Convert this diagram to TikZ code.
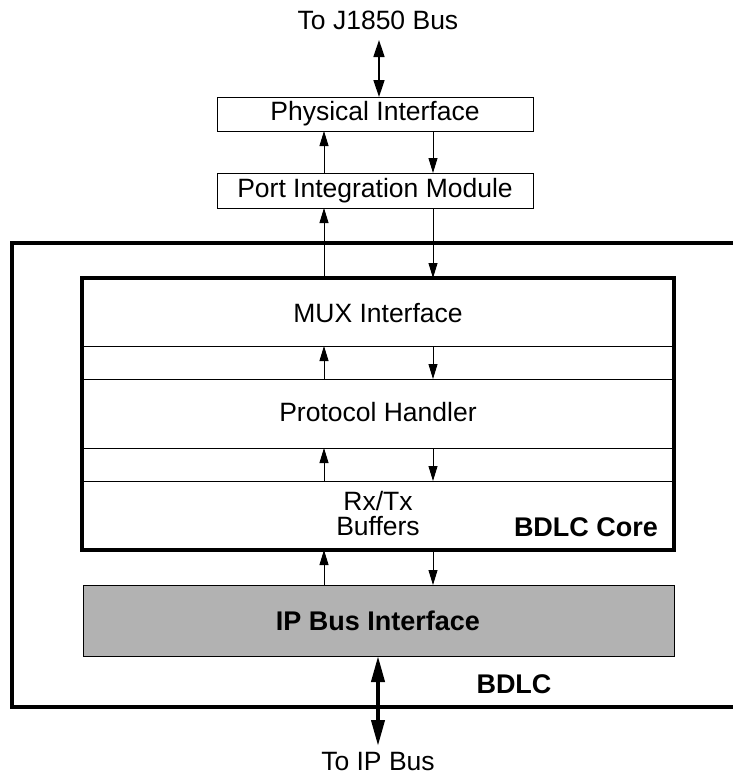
\documentclass[tikz,border=0pt]{standalone}
\usepackage{fontspec}
\setmainfont{Liberation Sans}
\usetikzlibrary{arrows.meta,calc}
\begin{document}
\begin{tikzpicture}[x=1pt,y=-1pt,
  every node/.style={font=\fontsize{26.5}{29}\selectfont, inner sep=0pt, outer sep=0pt},
  box/.style={draw, line width=1pt, rectangle, anchor=north west},
  sig/.style={line width=0.9pt, -{Triangle[length=15pt,width=9pt]}},
  bus/.style={line width=1.5pt, {Triangle[length=17pt,width=11pt]}-{Triangle[length=17pt,width=11pt]}},
  thickbus/.style={line width=4pt, {Triangle[length=26pt,width=13pt]}-{Triangle[length=26pt,width=13pt]}},
  heavy/.style={line width=4pt},
  lbl/.style={font=\fontsize{27}{29}\selectfont\bfseries}]
\useasboundingbox (0,0) rectangle (733,777);
\begin{scope}
\clip (0,0) rectangle (733,777);
% outer BDLC box (right side beyond image)
\draw[heavy] (760,243) -- (12,243) -- (12,707) -- (760,707);
\end{scope}
\coordinate (ux) at (324,0);
\coordinate (dx) at (433,0);
\coordinate (bx) at (378,0);
% top
\node (j1850) at (378,20) {To J1850 Bus};
\node[box, minimum width=316pt, minimum height=34pt] (phys) at (217,97) {};
\node at (375,114) {Physical Interface};
\node[box, minimum width=316pt, minimum height=35pt] (pim) at (217,173) {};
\node at (375,191) {Port Integration Module};
\coordinate (j1850b) at (379,40);
\draw[bus] (j1850b) -- (j1850b |- phys.north);
\draw[sig] (pim.north -| ux) -- (phys.south -| ux);
\draw[sig] (phys.south -| dx) -- (pim.north -| dx);
% core rows
\node[box, minimum width=592pt, minimum height=68pt] (mux) at (82,278) {};
\node at (378,313) {MUX Interface};
\node[box, minimum width=592pt, minimum height=33pt] (g1) at (82,346) {};
\node[box, minimum width=592pt, minimum height=69pt] (proto) at (82,379) {};
\node at (378,412) {Protocol Handler};
\node[box, minimum width=592pt, minimum height=33pt] (g2) at (82,448) {};
\node[box, minimum width=592pt, minimum height=69pt] (buf) at (82,481) {};
\node[align=center, font=\fontsize{26.5}{25}\selectfont] at (378,514) {Rx/Tx\\Buffers};
\node[lbl, anchor=base] at (586,536) {BDLC Core};
\draw[heavy] (mux.north west) rectangle (buf.south east);
% arrows between layers
\draw[sig] (mux.north -| ux) -- (pim.south -| ux);
\draw[sig] (pim.south -| dx) -- (mux.north -| dx);
\draw[sig] (g1.south -| ux) -- (g1.north -| ux);
\draw[sig] (g1.north -| dx) -- (g1.south -| dx);
\draw[sig] (g2.south -| ux) -- (g2.north -| ux);
\draw[sig] (g2.north -| dx) -- (g2.south -| dx);
% IP bus interface
\node[box, fill=black!30, minimum width=591pt, minimum height=71pt] (ip) at (83,585) {};
\node[lbl] at (378,621) {IP Bus Interface};
\draw[sig] (ip.north -| ux) -- (buf.south -| ux);
\draw[sig] (buf.south -| dx) -- (ip.north -| dx);
\node[lbl] at (514,684) {BDLC};
\node (ipbus) at (378,762) {To IP Bus};
\coordinate (ipb) at (378,746);
\draw[thickbus] (ip.south -| bx) -- (ipb);
\end{tikzpicture}
\end{document}
